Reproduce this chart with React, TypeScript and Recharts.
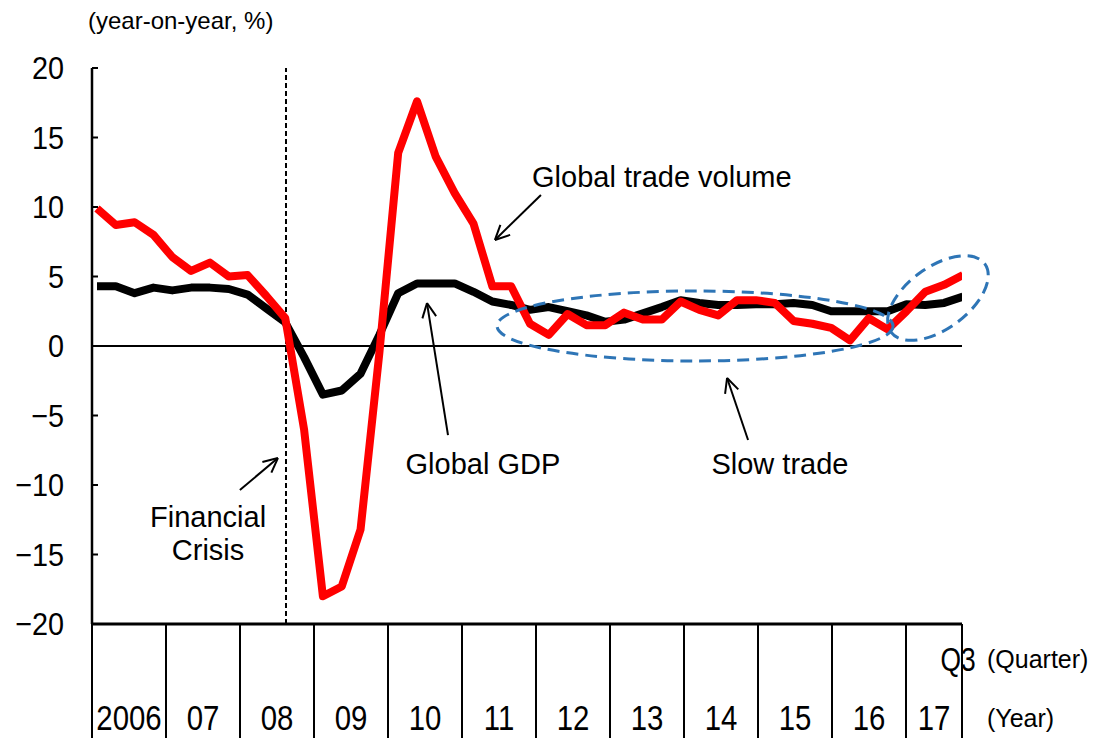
import React from "react";
import {
  LineChart,
  Line,
  XAxis,
  YAxis,
  ReferenceLine,
  ReferenceDot,
} from "recharts";

// 2006 Q1 .. 2017 Q3, year-on-year %
const quarters = Array.from({ length: 47 }, (_, i) => i);

const tradeVolume = [
  9.9, 8.7, 8.9, 8.0, 6.4, 5.4, 6.0, 5.0, 5.1, 3.6, 2.0, -6.0, -18.0, -17.3,
  -13.2, -0.5, 13.9, 17.6, 13.6, 11.0, 8.8, 4.3, 4.3, 1.6, 0.8, 2.3, 1.5, 1.5,
  2.4, 1.9, 1.9, 3.2, 2.6, 2.2, 3.3, 3.3, 3.1, 1.8, 1.6, 1.3, 0.4, 2.0, 1.2,
  2.5, 3.9, 4.4, 5.1,
];

const globalGdp = [
  4.3, 4.3, 3.8, 4.2, 4.0, 4.2, 4.2, 4.1, 3.7, 2.7, 1.7, -0.8, -3.5, -3.2, -2.0,
  0.8, 3.8, 4.5, 4.5, 4.5, 3.9, 3.2, 2.95, 2.6, 2.8, 2.5, 2.2, 1.75, 1.9, 2.35,
  2.8, 3.3, 3.1, 2.95, 2.95, 3.0, 3.0, 3.1, 2.95, 2.5, 2.5, 2.5, 2.5, 3.0, 2.95,
  3.1, 3.55,
];

const yearLabels = ["2006", "07", "08", "09", "10", "11", "12", "13", "14", "15", "16", "17"];
const yTicks = [20, 15, 10, 5, 0, -5, -10, -15, -20];

const X_MIN = -0.2655;
const X_MAX = 45.95;
const YEAR_SPAN = 3.931;

const data = quarters.map((q) => ({
  q,
  trade: tradeVolume[q],
  gdp: globalGdp[q],
}));

// year boundaries on the quarter axis, then the year-label midpoints
const boundaries = yearLabels.map((_, k) => X_MIN + k * YEAR_SPAN).concat([X_MAX]);
const midpoints = yearLabels.map((_, k) => (boundaries[k] + boundaries[k + 1]) / 2);
const xTicks = [...boundaries, ...midpoints];

const SANS = "'Liberation Sans', Arial, sans-serif";

// condensed look of the original tick font
function Narrow({ x, y, size, anchor, sx, children }: any) {
  return (
    <text
      transform={`translate(${x} ${y}) scale(${sx} 1)`}
      fontFamily={SANS}
      fontSize={size}
      textAnchor={anchor}
      fill="#000"
    >
      {children}
    </text>
  );
}

function XTick(props: any) {
  const { x, y, index } = props;
  if (index < boundaries.length) {
    const isEnd = index === boundaries.length - 1;
    return (
      <g>
        <line x1={x} y1={y} x2={x} y2={y + 120} stroke="#000" strokeWidth={2} />
        {isEnd && (
          <Narrow x={x - 4} y={y + 47} size={33} sx={0.8} anchor="middle">
            Q3
          </Narrow>
        )}
      </g>
    );
  }
  const label = yearLabels[index - boundaries.length];
  return (
    <Narrow x={x} y={y + 106} size={35} sx={0.84} anchor="middle">
      {label}
    </Narrow>
  );
}

function YTick(props: any) {
  const { x, y, payload } = props;
  const v = payload.value;
  const label = v < 0 ? "\u2212" + Math.abs(v) : String(v);
  return (
    <g>
      <line x1={x} y1={y} x2={x + 6} y2={y} stroke="#000" strokeWidth={2} />
      <Narrow x={x - 28} y={y + 11} size={32} sx={0.9} anchor="end">
        {label}
      </Narrow>
    </g>
  );
}

// arrow whose tip is at the reference point, tail offset in px
const arrow = (dx: number, dy: number) => (p: any) => {
  const { cx, cy } = p;
  const ang = Math.atan2(dy, dx);
  const h = 16;
  const a1 = ang + 0.45;
  const a2 = ang - 0.45;
  return (
    <g stroke="#000" strokeWidth={2} fill="none">
      <line x1={cx + dx} y1={cy + dy} x2={cx} y2={cy} />
      <line x1={cx} y1={cy} x2={cx + h * Math.cos(a1)} y2={cy + h * Math.sin(a1)} />
      <line x1={cx} y1={cy} x2={cx + h * Math.cos(a2)} y2={cy + h * Math.sin(a2)} />
    </g>
  );
};

const label = (lines: string[], anchor: "start" | "middle") => (p: any) => (
  <text x={p.cx} y={p.cy} fontFamily={SANS} fontSize={29} textAnchor={anchor} fill="#000">
    {lines.map((l, i) => (
      <tspan key={i} x={p.cx} dy={i === 0 ? 0 : 33}>
        {l}
      </tspan>
    ))}
  </text>
);

const ellipse = (rx: number, ry: number, rot: number) => (p: any) => (
  <ellipse
    cx={p.cx}
    cy={p.cy}
    rx={rx}
    ry={ry}
    transform={`rotate(${rot} ${p.cx} ${p.cy})`}
    fill="none"
    stroke="#2E75B6"
    strokeWidth={3}
    strokeDasharray="12 7"
  />
);

export default function App() {
  return (
    <div style={{ position: "absolute", left: 0, top: 0, width: 1095, height: 738, background: "#fff" }}>
      <LineChart
        width={1095}
        height={738}
        data={data}
        margin={{ top: 68, right: 133, bottom: 0, left: 0 }}
      >
        <XAxis
          dataKey="q"
          type="number"
          domain={[X_MIN, X_MAX]}
          ticks={xTicks}
          interval={0}
          allowDataOverflow
          height={114}
          tickSize={0}
          tickMargin={0}
          tickLine={false}
          axisLine={{ stroke: "#000", strokeWidth: 3 }}
          tick={<XTick />}
        />
        <YAxis
          type="number"
          domain={[-20, 20]}
          ticks={yTicks}
          interval={0}
          width={92}
          tickSize={0}
          tickMargin={0}
          tickLine={false}
          axisLine={{ stroke: "#000", strokeWidth: 2.5 }}
          tick={<YTick />}
        />
        <ReferenceLine y={0} stroke="#000" strokeWidth={2} />
        <ReferenceLine x={10.04} stroke="#000" strokeWidth={2} strokeDasharray="5 3" />
        <Line
          type="linear"
          dataKey="gdp"
          stroke="#000"
          strokeWidth={8}
          dot={false}
          strokeLinejoin="round"
          isAnimationActive={false}
        />
        <Line
          type="linear"
          dataKey="trade"
          stroke="#FF0000"
          strokeWidth={8}
          dot={false}
          strokeLinejoin="round"
          isAnimationActive={false}
        />
        <ReferenceDot x={31.77} y={1.44} shape={ellipse(198, 35, 0)} />
        <ReferenceDot x={44.67} y={3.45} shape={ellipse(58, 31, -36)} />
        <ReferenceDot x={21.14} y={7.63} shape={arrow(46, -45)} />
        <ReferenceDot x={17.53} y={3.09} shape={arrow(21, 132)} />
        <ReferenceDot x={33.47} y={-2.3} shape={arrow(21, 62)} />
        <ReferenceDot x={9.61} y={-8.06} shape={arrow(-38, 32)} />
        <ReferenceDot x={23.11} y={11.44} shape={label(["Global trade volume"], "start")} />
        <ReferenceDot x={20.5} y={-9.21} shape={label(["Global GDP"], "middle")} />
        <ReferenceDot x={36.28} y={-9.21} shape={label(["Slow trade"], "middle")} />
        <ReferenceDot x={5.9} y={-13.02} shape={label(["Financial", "Crisis"], "middle")} />
      </LineChart>
      <div style={{ position: "absolute", left: 88, top: 7, fontFamily: SANS, fontSize: 24, color: "#000" }}>
        (year-on-year, %)
      </div>
      <div style={{ position: "absolute", left: 987, top: 645, fontFamily: SANS, fontSize: 25, color: "#000" }}>
        (Quarter)
      </div>
      <div style={{ position: "absolute", left: 987, top: 704, fontFamily: SANS, fontSize: 25, color: "#000" }}>
        (Year)
      </div>
    </div>
  );
}
